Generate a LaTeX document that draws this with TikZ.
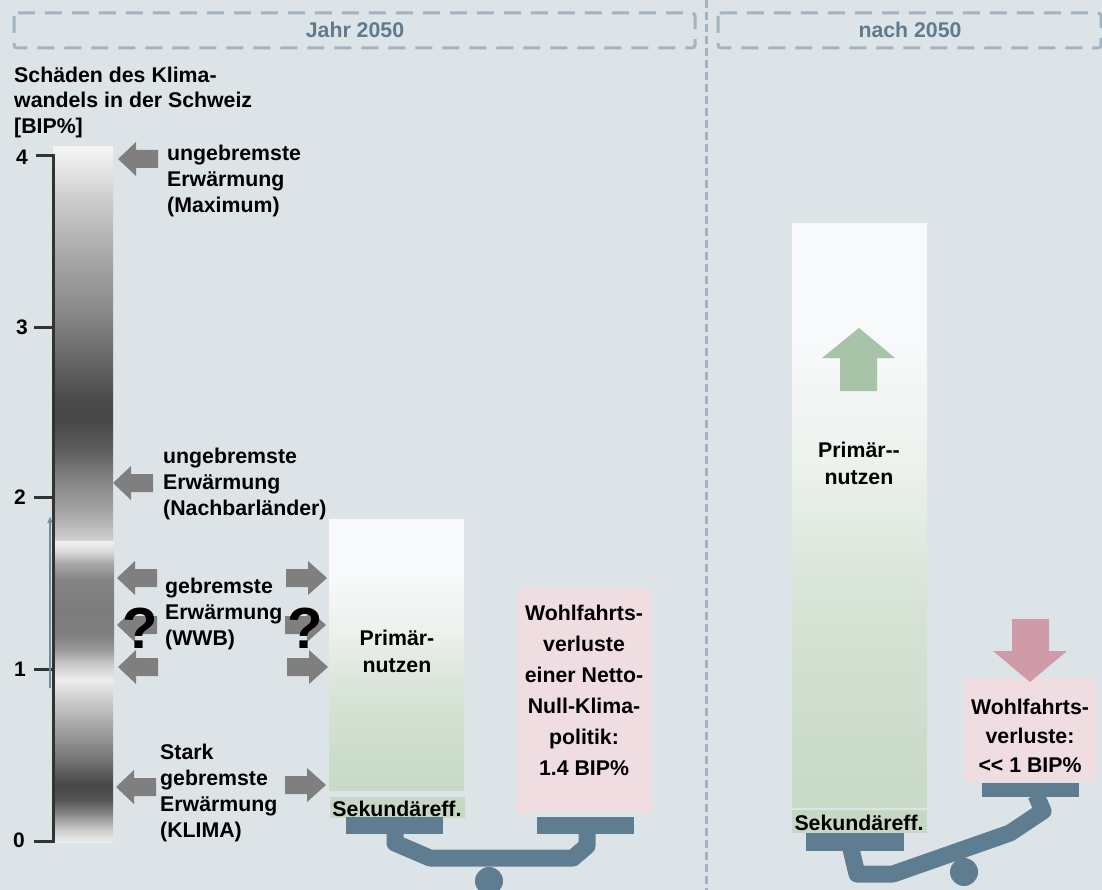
\documentclass[tikz,border=0pt]{standalone}
\usepackage{fontspec}
\setmainfont{Liberation Sans}
\usetikzlibrary{arrows.meta}
\definecolor{bg}{HTML}{DDE4E8}
\definecolor{dashc}{HTML}{A3B4C0}
\definecolor{headc}{HTML}{5F7B8D}
\definecolor{garrowc}{HTML}{7F7F7F}
\definecolor{balc}{HTML}{5E7D90}
\definecolor{pinkbox}{HTML}{EFDDE1}
\definecolor{sekc}{HTML}{C6D7C4}
\definecolor{greenarr}{HTML}{A7C3A8}
\definecolor{pinkarr}{HTML}{CF9BA8}
\definecolor{axisc}{HTML}{333333}
\definecolor{thinblue}{HTML}{6E8FA3}
\pgfdeclareverticalshading{segA}{100bp}{gray(0bp)=(0.82); gray(25bp)=(0.82); gray(28.9bp)=(0.64); gray(32.7bp)=(0.52); gray(36.5bp)=(0.37); gray(40.4bp)=(0.28); gray(42.9bp)=(0.29); gray(48bp)=(0.40); gray(54.3bp)=(0.54); gray(60.7bp)=(0.65); gray(68.3bp)=(0.80); gray(71.4bp)=(0.88); gray(75bp)=(0.96); gray(100bp)=(0.96)}
\pgfdeclareverticalshading{segB}{100bp}{gray(0bp)=(0.93); gray(25bp)=(0.93); gray(30.4bp)=(0.80); gray(35.9bp)=(0.60); gray(41.3bp)=(0.50); gray(50.4bp)=(0.49); gray(61.2bp)=(0.52); gray(66.7bp)=(0.65); gray(71.4bp)=(0.86); gray(75bp)=(0.95); gray(100bp)=(0.95)}
\pgfdeclareverticalshading{segC}{100bp}{gray(0bp)=(0.93); gray(25bp)=(0.93); gray(28.7bp)=(0.80); gray(33.3bp)=(0.55); gray(38bp)=(0.33); gray(42.6bp)=(0.28); gray(50.3bp)=(0.45); gray(59.6bp)=(0.63); gray(68.8bp)=(0.80); gray(75bp)=(0.93); gray(100bp)=(0.93)}
\pgfdeclareverticalshading{prim}{100bp}{rgb(0bp)=(0.78,0.85,0.78); rgb(25bp)=(0.78,0.85,0.78); rgb(42.5bp)=(0.84,0.89,0.835); rgb(55bp)=(0.93,0.95,0.93); rgb(65bp)=(0.973,0.976,0.984); rgb(100bp)=(0.973,0.976,0.984)}
\tikzset{
  lbl/.style={font=\fontsize{21.3}{26}\selectfont\bfseries, inner sep=0pt, align=left, anchor=west},
  ctr/.style={font=\fontsize{21.3}{27}\selectfont\bfseries, inner sep=0pt, align=center},
  axlbl/.style={font=\fontsize{21}{22}\selectfont\bfseries, inner sep=0pt},
  headtxt/.style={font=\fontsize{21.3}{24}\selectfont\bfseries, text=headc, inner sep=0pt},
  headbox/.style={draw=dashc, line width=3pt, dash pattern=on 17pt off 10pt, rounded corners=3pt},
  qmark/.style={font=\fontsize{58}{60}\selectfont\bfseries, inner sep=0pt},
  beam/.style={draw=balc, line width=17pt, line join=round},
  larr/.pic={\fill[garrowc] (0,0) -- (18,-17) -- (18,-9) -- (40,-9) -- (40,9) -- (18,9) -- (18,17) -- cycle;},
  rarr/.pic={\fill[garrowc] (0,0) -- (-19,-17) -- (-19,-9) -- (-41,-9) -- (-41,9) -- (-19,9) -- (-19,17) -- cycle;}
}
\begin{document}
\begin{tikzpicture}[x=1pt,y=-1pt]
\fill[bg] (0,0) rectangle (1102,890);
\useasboundingbox (0,0) rectangle (1102,890);

% header boxes
\draw[headbox] (14,13) rectangle (695,48);
\draw[headbox] (718,13) rectangle (1101,48);
\node[headtxt] (h1) at (355,30) {Jahr 2050};
\node[headtxt] (h2) at (910,30) {nach 2050};
\draw[dashc, line width=3pt, dash pattern=on 8pt off 4pt] (706,0) -- (706,890);

% axis title
\node[lbl, font=\fontsize{21.3}{25.5}\selectfont\bfseries] (title) at (14,102) {Schäden des Klima-\\wandels in der Schweiz\\{[BIP\%]}};

% gradient bar
\shade[shading=segA] (53,147) rectangle (113,541);
\shade[shading=segB] (54,541) rectangle (114,680);
\shade[shading=segC] (53,680) rectangle (113,842);

% axis
\draw[axisc, line width=3pt] (36,156) -- (53,156) -- (53,841) -- (34,841);
\draw[axisc, line width=3pt] (34,327) -- (53,327);
\draw[axisc, line width=3pt] (34,497) -- (53,497);
\draw[axisc, line width=3pt] (34,669) -- (53,669);
\node[axlbl] (t4) at (22,157) {4};
\node[axlbl] (t3) at (22,327) {3};
\node[axlbl] (t2) at (20,497) {2};
\node[axlbl] (t1) at (20,669) {1};
\node[axlbl] (t0) at (19,840) {0};
\coordinate (ba) at (50,688);
\coordinate (bb) at (50,516);
\draw[thinblue, line width=1.4pt, -{Latex[length=7pt,width=6pt]}] (ba) -- (bb);

% gray arrows
\pic at (118,159) {larr};
\pic at (113,483) {larr};
\pic at (117,578) {larr};
\pic at (117,625) {larr};
\pic at (118,667) {larr};
\pic at (116,787) {larr};
\pic at (327,578) {rarr};
\pic at (326,625) {rarr};
\pic at (328,667) {rarr};
\pic at (326,785) {rarr};

% labels
\node[lbl] (lmax) at (167,181) {ungebremste\\Erwärmung\\(Maximum)};
\node[lbl] (lnach) at (163,484) {ungebremste\\Erwärmung\\(Nachbarländer)};
\node[lbl] (lwwb) at (165,614) {gebremste\\Erwärmung\\(WWB)};
\node[lbl] (lkl) at (160,793) {Stark\\gebremste\\Erwärmung\\(KLIMA)};
\node[qmark] (q1) at (140,628) {?};
\node[qmark] (q2) at (305,628) {?};

% left balance (Jahr 2050)
\shade[shading=prim] (329,519) rectangle (464,790);
\node[ctr] (p1) at (397,651) {Primär-\\nutzen};
\fill[sekc] (330,797) rectangle (465,818);
\node[ctr] (s1) at (397,809) {Sekundäreff.};
\fill[pinkbox] (517,588) rectangle (652,813);
\node[ctr, font=\fontsize{21.3}{31}\selectfont\bfseries] (w1) at (584,690) {Wohlfahrts-\\verluste\\einer Netto-\\Null-Klima-\\politik:\\1.4 BIP\%};
\draw[beam] (395,826) -- (395,843) -- (430,858) -- (573,858) -- (587,846) -- (587,826);
\fill[balc] (346,817) rectangle (443,834);
\fill[balc] (537,817) rectangle (634,834);
\fill[balc] (489,881) circle (14);

% right balance (nach 2050)
\shade[shading=prim] (792,224) rectangle (927,807);
\fill[greenarr] (859,328) -- (895,358) -- (877,358) -- (877,391) -- (840,391) -- (840,358) -- (822,358) -- cycle;
\node[ctr] (p2) at (859,463) {Primär-{}-\\nutzen};
\fill[sekc] (792,810) rectangle (927,833);
\node[ctr] (s2) at (859,823) {Sekundäreff.};
\fill[pinkbox] (964,678) rectangle (1097,782);
\fill[pinkarr] (1012,619) -- (1049,619) -- (1049,651) -- (1067,651) -- (1030,682) -- (993,651) -- (1012,651) -- cycle;
\node[ctr, font=\fontsize{21.3}{29}\selectfont\bfseries] (w2) at (1030,736) {Wohlfahrts-\\verluste:\\<{}< 1 BIP\%};
\draw[beam] (850,845) -- (857,874) -- (893,874) -- (1010,833) -- (1043,811) -- (1036,795);
\fill[balc] (806,833) rectangle (904,851);
\fill[balc] (982,783) rectangle (1079,797);
\fill[balc] (964,872) circle (14);
\end{tikzpicture}
\end{document}
